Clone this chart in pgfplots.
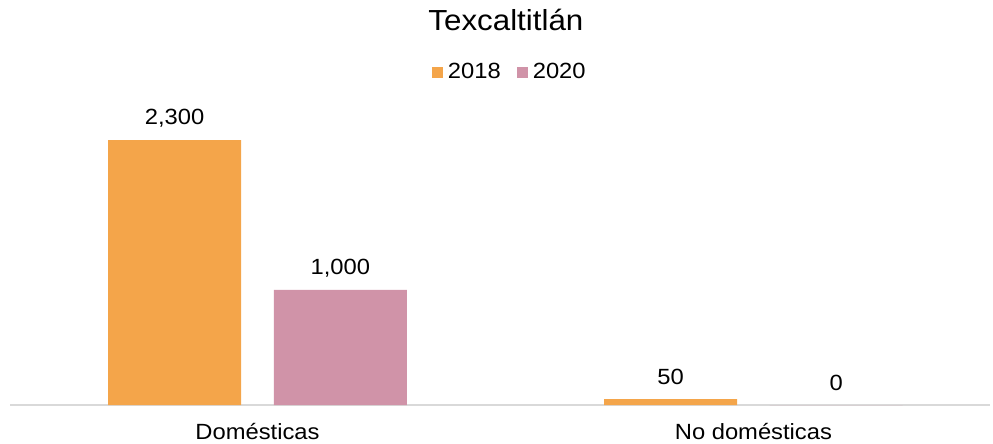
\documentclass[border=0pt]{standalone}
\usepackage{pgfplots}
\pgfplotsset{compat=1.18}
\usepackage{fontspec}
\setmainfont{Liberation Sans}[FakeStretch=1.08]
\definecolor{cOr}{HTML}{F4A54A}
\definecolor{cPk}{HTML}{D093A8}
\definecolor{cAx}{HTML}{D9D9D9}
\begin{document}
\begin{tikzpicture}
\path (0,0) rectangle (993bp,444bp);
\begin{axis}[
  at={(10bp,39bp)}, anchor=south west,
  scale only axis, width=980bp, height=345.6bp,
  xmin=-0.499, xmax=1.477, ymin=0, ymax=3000,
  ybar, bar width=0.268, bar shift auto=false,
  axis x line*=bottom, axis y line=none,
  x axis line style={draw=cAx, line width=1.5bp, -},
  xtick={0,1}, xticklabels={Domésticas, No domésticas},
  major tick length=0,
  xticklabel style={font=\fontsize{22bp}{24bp}\selectfont, yshift=-15bp},
  /pgf/number format/assume math mode=true,
  /pgf/number format/.cd, fixed, precision=0, 1000 sep={,}, /pgfplots/.cd,
  nodes near coords,
  every node near coord/.append style={font=\fontsize{22bp}{24bp}\selectfont, anchor=center, yshift=22bp, text=black},
  legend style={at={(0.510,0.9635)}, anchor=center, draw=none, fill=none,
    legend columns=2, font=\fontsize{22bp}{24bp}\selectfont,
    /tikz/every odd column/.append style={column sep=3bp},
    /tikz/every even column/.append style={column sep=14bp}},
  legend image code/.code={\fill[#1] (0bp,-5.5bp) rectangle (11bp,5.5bp);},
  clip=false,
]
\addplot[fill=cOr, draw=none, bar shift=-0.167] coordinates {(0,2300) (1,50)};
\addplot[fill=cPk, draw=none, bar shift=0.167] coordinates {(0,1000) (1,0)};
\legend{2018, 2020}
\node[font=\fontsize{29bp}{32bp}\selectfont] at (axis description cs:0.506,1.114) {Texcaltitlán};
\end{axis}
\end{tikzpicture}
\end{document}
